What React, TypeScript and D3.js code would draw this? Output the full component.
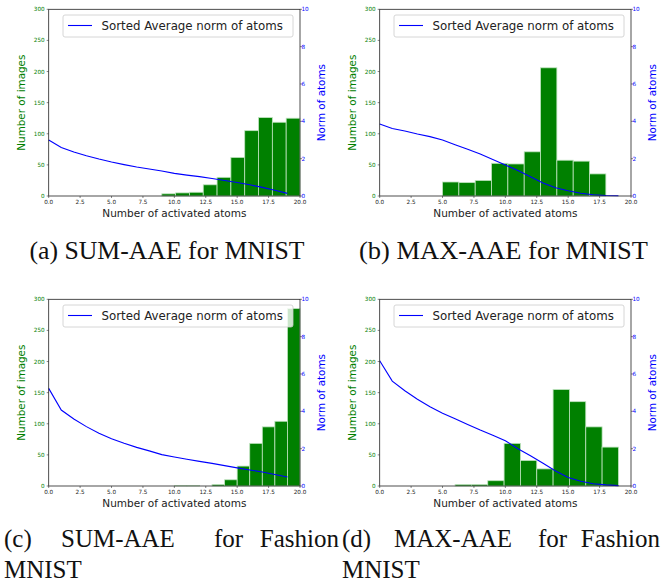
import React from 'react';
import * as d3 from 'd3';

// histogram counts (10 equal bins over each range) and sorted average norms for k = 0..19
const sumMnistCounts = [3.5, 5, 6, 18, 30, 62, 105, 126, 118.5, 125];
const sumMnistRange = [9, 20];
const sumMnistNorm = [3.0, 2.6, 2.36, 2.16, 1.98, 1.82, 1.68, 1.55, 1.45, 1.34, 1.21, 1.12, 1.04, 0.94, 0.83, 0.72, 0.6, 0.46, 0.31, 0.14];

const maxMnistCounts = [22.5, 21.5, 25, 52.5, 51.5, 71, 206, 57.5, 56, 35.5];
const maxMnistRange = [5, 18];
const maxMnistNorm = [3.86, 3.62, 3.48, 3.32, 3.18, 3.0, 2.75, 2.5, 2.25, 1.96, 1.66, 1.36, 1.03, 0.7, 0.44, 0.28, 0.15, 0.07, 0.03, 0.01];

const sumFashionCounts = [1, 1, 0, 2.5, 10, 32, 68.5, 95, 104, 285];
const sumFashionRange = [10, 20];
const sumFashionNorm = [5.23, 4.07, 3.59, 3.18, 2.82, 2.53, 2.29, 2.07, 1.88, 1.68, 1.55, 1.43, 1.32, 1.21, 1.09, 0.97, 0.86, 0.75, 0.62, 0.48];

const maxFashionCounts = [2.5, 2.5, 8.5, 68.5, 41, 27.5, 155, 135.5, 95, 62.5];
const maxFashionRange = [6, 19];
const maxFashionNorm = [6.71, 5.62, 5.1, 4.65, 4.25, 3.9, 3.6, 3.3, 3.0, 2.72, 2.42, 2.0, 1.62, 1.22, 0.8, 0.45, 0.25, 0.12, 0.06, 0.02];

const countTicks = [0, 50, 100, 150, 200, 250, 300];
const normTicks = [0, 2, 4, 6, 8, 10];
const xTicks = [0, 2.5, 5, 7.5, 10, 12.5, 15, 17.5, 20];

const legendLabel = 'Sorted Average norm of atoms';
const FONT = 'DejaVu Sans, sans-serif';
const SERIF = 'Liberation Serif, DejaVu Serif, serif';

function Panel({ ox, oy, counts, range, norm }) {
  const L = 48.7, R = 300, T = 9.3, B = 196;
  const x = d3.scaleLinear().domain([0, 20]).range([L, R]);
  const yc = d3.scaleLinear().domain([0, 300]).range([B, T]);
  const yn = d3.scaleLinear().domain([0, 10]).range([B, T]);
  const step = (range[1] - range[0]) / counts.length;
  const line = d3.line<number>().x((d, i) => x(i)).y(d => yn(d));

  return (
    <g transform={`translate(${ox},${oy})`}>
      {counts.map((c, i) =>
        c > 0 ? (
          <rect key={i} x={x(range[0] + i * step)} y={yc(c)}
            width={x(range[0] + (i + 1) * step) - x(range[0] + i * step)}
            height={yc(0) - yc(c)} fill="#008000" stroke="#bfe3bf" strokeWidth={0.8} />
        ) : null
      )}
      <path d={line(norm) || ''} fill="none" stroke="#0000ff" strokeWidth={1.1} />
      <rect x={L} y={T} width={R - L} height={B - T} fill="none" stroke="#222" strokeWidth={0.8} />
      {countTicks.map(t => (
        <g key={'l' + t}>
          <line x1={L - 2} x2={L} y1={yc(t)} y2={yc(t)} stroke="#333" strokeWidth={0.6} />
          <text x={L - 4} y={yc(t) + 2} fontSize={5.7} fontFamily={FONT} fill="#008000" textAnchor="end">{t}</text>
        </g>
      ))}
      {normTicks.map(t => (
        <g key={'r' + t}>
          <line x1={R} x2={R + 2} y1={yn(t)} y2={yn(t)} stroke="#333" strokeWidth={0.6} />
          <text x={R + 1.5} y={yn(t) + 2} fontSize={5.7} fontFamily={FONT} fill="#0000ff">{t}</text>
        </g>
      ))}
      {xTicks.map(t => (
        <g key={'x' + t}>
          <line x1={x(t)} x2={x(t)} y1={B} y2={B + 2} stroke="#333" strokeWidth={0.6} />
          <text x={x(t)} y={B + 8.3} fontSize={5.7} fontFamily={FONT} fill="#222" textAnchor="middle">{t.toFixed(1)}</text>
        </g>
      ))}
      <text x={(L + R) / 2} y={217} fontSize={10.5} fontFamily={FONT} fill="#222" textAnchor="middle">Number of activated atoms</text>
      <text transform={`translate(25,${(T + B) / 2}) rotate(-90)`} fontSize={10.4} fontFamily={FONT} fill="#008000" textAnchor="middle">Number of images</text>
      <text transform={`translate(324.5,${(T + B) / 2}) rotate(-90)`} fontSize={10.4} fontFamily={FONT} fill="#0000ff" textAnchor="middle">Norm of atoms</text>
      <rect x={63} y={15} width={230} height={22} rx={2} fill="white" fillOpacity={0.8} stroke="#cccccc" strokeWidth={0.8} />
      <line x1={68} x2={92} y1={25.5} y2={25.5} stroke="#0000ff" strokeWidth={1.1} />
      <text x={101.5} y={29.8} fontSize={11.8} fontFamily={FONT} fill="#222">{legendLabel}</text>
    </g>
  );
}

export default function App() {
  return (
    <svg width={662} height={585} style={{ position: 'absolute', left: 0, top: 0, background: 'white' }}>
      <Panel ox={0} oy={0} counts={sumMnistCounts} range={sumMnistRange} norm={sumMnistNorm} />
      <Panel ox={331} oy={0} counts={maxMnistCounts} range={maxMnistRange} norm={maxMnistNorm} />
      <Panel ox={0} oy={290} counts={sumFashionCounts} range={sumFashionRange} norm={sumFashionNorm} />
      <Panel ox={331} oy={290} counts={maxFashionCounts} range={maxFashionRange} norm={maxFashionNorm} />
      <g fontFamily={SERIF} fontSize={25} fill="#111">
        <text x={29.5} y={259} textLength={275} lengthAdjust="spacingAndGlyphs">(a) SUM-AAE for MNIST</text>
        <text x={359} y={259} textLength={289} lengthAdjust="spacingAndGlyphs">(b) MAX-AAE for MNIST</text>
        <text x={4} y={547}>(c)</text>
        <text x={61} y={547}>SUM-AAE</text>
        <text x={214} y={547}>for</text>
        <text x={339} y={547} textAnchor="end">Fashion</text>
        <text x={342} y={547}>(d)</text>
        <text x={394} y={547}>MAX-AAE</text>
        <text x={538} y={547}>for</text>
        <text x={660} y={547} textAnchor="end">Fashion</text>
        <text x={4} y={578}>MNIST</text>
        <text x={342} y={578}>MNIST</text>
      </g>
    </svg>
  );
}
